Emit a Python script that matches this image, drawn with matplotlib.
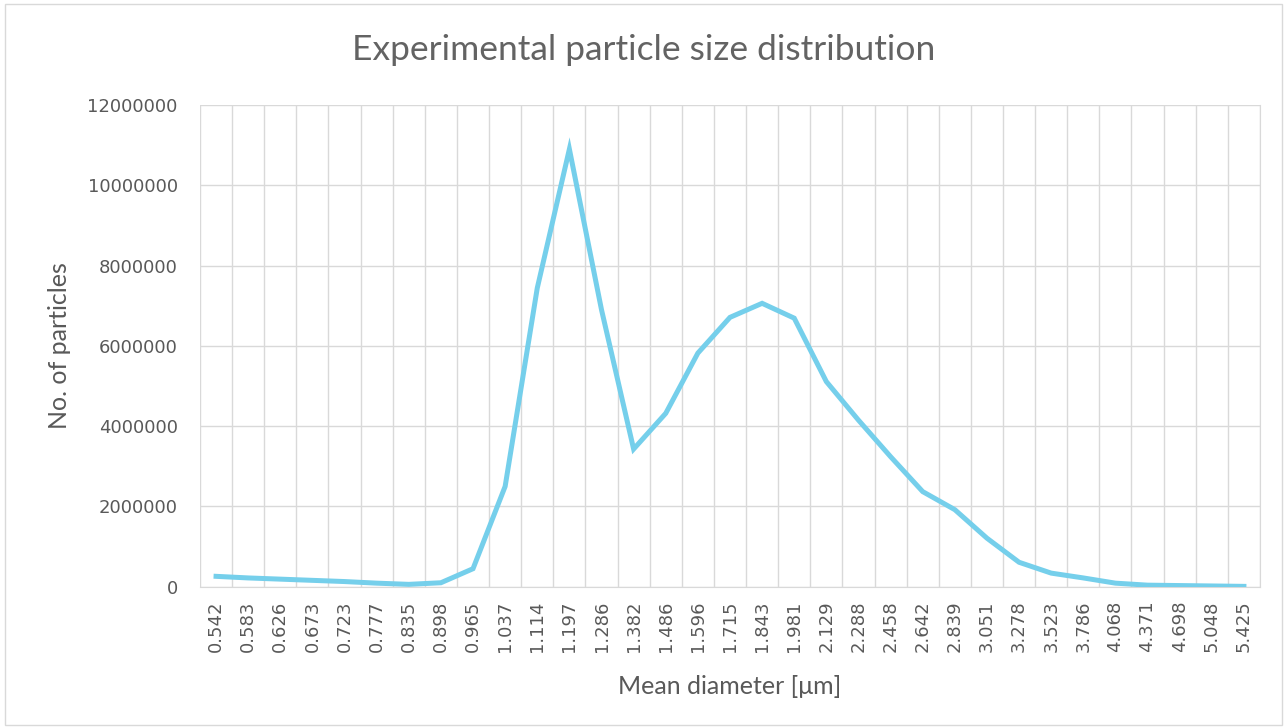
import numpy as np
import matplotlib.pyplot as plt

diameters = ['0.542', '0.583', '0.626', '0.673', '0.723', '0.777', '0.835', '0.898',
             '0.965', '1.037', '1.114', '1.197', '1.286', '1.382', '1.486', '1.596',
             '1.715', '1.843', '1.981', '2.129', '2.288', '2.458', '2.642', '2.839',
             '3.051', '3.278', '3.523', '3.786', '4.068', '4.371', '4.698', '5.048', '5.425']
counts = [260000, 220000, 190000, 160000, 130000, 90000, 60000, 100000,
          450000, 2500000, 7440000, 10900000, 6900000, 3430000, 4320000, 5820000,
          6710000, 7060000, 6690000, 5110000, 4150000, 3240000, 2370000, 1920000,
          1210000, 610000, 340000, 220000, 90000, 40000, 30000, 20000, 10000]

grey = '#595959'
grid = '#D9D9D9'

fig = plt.figure(figsize=(12.87, 7.28), dpi=100)
ax = fig.add_axes([0.1554, 0.194, 0.8236, 0.6618])

x = np.arange(len(diameters))
ax.plot(x, counts, color='#75CFEB', lw=3.6, solid_joinstyle='miter', zorder=3)

ax.set_xlim(-0.5, len(diameters) - 0.5)
ax.set_ylim(0, 12000000)
ax.set_yticks(np.arange(0, 12000001, 2000000))
ax.set_yticklabels([str(v) for v in range(0, 12000001, 2000000)],
                   fontsize=13, color=grey, family='DejaVu Sans')
ax.set_xticks(x)
ax.set_xticklabels(diameters, rotation=90, fontsize=13, color=grey, family='DejaVu Sans')
ax.set_xticks(np.arange(-0.5, len(diameters)), minor=True)
ax.tick_params(which='both', length=0, pad=10)
ax.tick_params(axis='y', pad=16)

ax.grid(axis='y', color=grid, lw=1)
ax.grid(axis='x', which='minor', color=grid, lw=1)
for s in ['top', 'left']:
    ax.spines[s].set_visible(False)
ax.spines['bottom'].set_color(grid)
ax.spines['right'].set_color(grid)

fig.text(0.5, 1 - 50 / 728, 'Experimental particle size distribution', fontsize=25.5,
         color='#636363', family='Lato', ha='center', va='center')
ax.set_xlabel('Mean diameter [μm]', fontsize=18, color=grey, family='Lato', labelpad=16)
ax.set_ylabel('No. of particles', fontsize=18, color=grey, family='Lato', labelpad=12)

fig.patches.append(plt.Rectangle((0.004, 0.004), 0.992, 0.99, transform=fig.transFigure,
                                 fill=False, edgecolor=grid, lw=1))

fig.savefig('out.png', dpi=100)
